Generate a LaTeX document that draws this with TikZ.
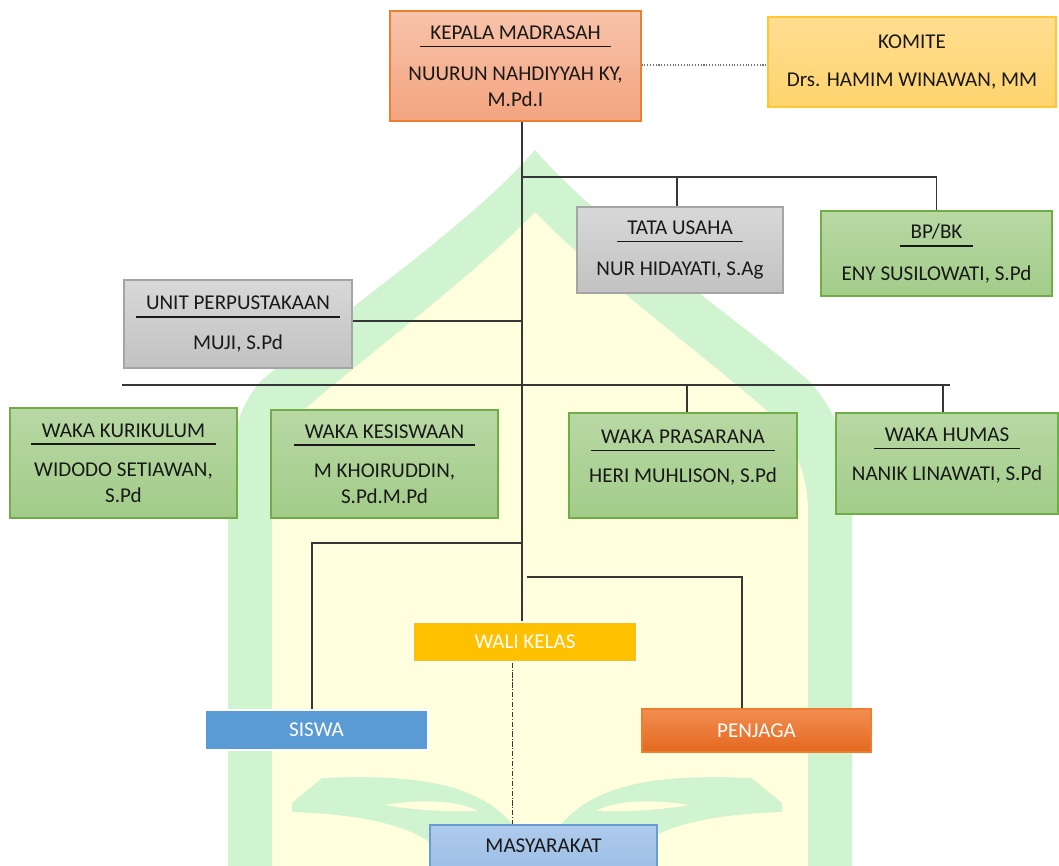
\documentclass[tikz,border=0pt]{standalone}
\usepackage{fontspec}
\setmainfont{Carlito}
\definecolor{teks}{RGB}{25,25,25}
\definecolor{garis}{RGB}{55,55,55}
\definecolor{wmHijau}{RGB}{208,243,208}
\definecolor{wmKuning}{RGB}{255,255,222}
\definecolor{kepala1}{RGB}{247,195,170}\definecolor{kepala2}{RGB}{244,164,128}\definecolor{kepalaG}{RGB}{237,125,49}
\definecolor{komite1}{RGB}{255,222,145}\definecolor{komite2}{RGB}{255,212,110}\definecolor{komiteG}{RGB}{255,200,50}
\definecolor{abu1}{RGB}{216,216,216}\definecolor{abu2}{RGB}{194,194,194}\definecolor{abuG}{RGB}{165,165,165}
\definecolor{hijau1}{RGB}{184,216,164}\definecolor{hijau2}{RGB}{162,204,137}\definecolor{hijauG}{RGB}{112,173,71}
\definecolor{wali}{RGB}{255,192,0}
\definecolor{siswa}{RGB}{91,155,213}
\definecolor{penjaga1}{RGB}{242,142,82}\definecolor{penjaga2}{RGB}{228,104,30}
\definecolor{masy1}{RGB}{174,203,236}\definecolor{masy2}{RGB}{150,185,226}\definecolor{masyG}{RGB}{105,155,212}
\newsavebox{\jbox}
\newcommand{\judul}[1]{\sbox{\jbox}{#1}\rlap{\hspace{-6pt}\raisebox{-4.5pt}{\rule{\dimexpr\wd\jbox+12pt\relax}{0.9pt}}}\usebox{\jbox}}
\tikzset{
  ukuran/.style 2 args={minimum width=#1*0.02cm, minimum height=#2*0.02cm},
  kotak/.style={draw, line width=0.7pt, inner sep=0pt, align=center, text=teks,
    font=\fontsize{12}{14.6}\selectfont},
  abu/.style={kotak, draw=abuG, top color=abu1, bottom color=abu2},
  hijau/.style={kotak, draw=hijauG, top color=hijau1, bottom color=hijau2},
  polos/.style={kotak, draw=white, text=white, fill=#1},
  garisan/.style={draw=garis, line width=0.8pt}
}
\begin{document}
\begin{tikzpicture}[x=0.02cm, y=-0.02cm]
\useasboundingbox (0,0) rectangle (1059,866);
\clip (0,0) rectangle (1059,866);
% watermark
\fill[wmHijau] (228,866) -- (228,500) .. controls (228,445) and (238,405) .. (262,380) .. controls (350,305) and (470,225) .. (535,150)
  .. controls (600,225) and (720,305) .. (808,380) .. controls (832,405) and (852,445) .. (852,500) -- (852,866) -- cycle;
\fill[wmKuning] (272,866) -- (272,512) .. controls (272,465) and (284,432) .. (306,408) .. controls (380,345) and (480,270) .. (535,212)
  .. controls (590,270) and (690,345) .. (764,408) .. controls (786,432) and (808,465) .. (808,512) -- (808,866) -- cycle;
\foreach \s/\d in {1/0, -1/21.48} {
\begin{scope}[xshift=\d cm, xscale=\s]
\fill[wmHijau] (292,803) -- (322,778) .. controls (400,775) and (475,778) .. (514,826) -- (516,850) -- (440,850)
  .. controls (410,822) and (350,814) .. (292,812) -- cycle;
\fill[wmKuning] (385,805) .. controls (420,799) and (458,800) .. (478,811) .. controls (448,812) and (412,810) .. cycle;
\end{scope}}
% kotak
\node[kotak, draw=kepalaG, top color=kepala1, bottom color=kepala2, ukuran={251}{110}] (kepala) at (515.5,66)
  {\judul{KEPALA MADRASAH}\\[9pt] NUURUN NAHDIYYAH KY,\\ M.Pd.I};
\node[kotak, draw=komiteG, top color=komite1, bottom color=komite2, ukuran={288}{90}] (komite) at (912,62)
  {KOMITE\\[7.5pt] Drs. HAMIM WINAWAN, MM};
\node[abu, ukuran={206}{86}] (tu) at (680,250) {\judul{TATA USAHA}\\[9pt] NUR HIDAYATI, S.Ag};
\node[hijau, ukuran={231}{85}] (bk) at (936.5,253.5) {\judul{BP/BK}\\[9pt] ENY SUSILOWATI, S.Pd};
\node[abu, ukuran={228}{88}] (perpus) at (238,324) {\judul{UNIT PERPUSTAKAAN}\\[8pt] MUJI, S.Pd};
\node[hijau, ukuran={227}{110}] (kurikulum) at (123.5,463) {\judul{WAKA KURIKULUM}\\[8pt] WIDODO SETIAWAN,\\ S.Pd};
\node[hijau, ukuran={227}{108}] (kesiswaan) at (384.5,464) {\judul{WAKA KESISWAAN}\\[8pt] M KHOIRUDDIN,\\ S.Pd.M.Pd};
\node[hijau, ukuran={228}{105}] (prasarana) at (683,465.5) {\judul{WAKA PRASARANA}\\[8pt] HERI MUHLISON, S.Pd\\[-4pt]\mbox{}};
\node[hijau, ukuran={222}{101}] (humas) at (947,463.5) {\judul{WAKA HUMAS}\\[8pt] NANIK LINAWATI, S.Pd\\[-4pt]\mbox{}};
\node[polos=wali, ukuran={224}{40}] (walikelas) at (525,642) {WALI KELAS};
\node[polos=siswa, ukuran={223}{40}] (siswa) at (316.5,730) {SISWA};
\node[kotak, draw=kepalaG, text=white, top color=penjaga1, bottom color=penjaga2, ukuran={229}{43}] (penjaga) at (756.5,730.5) {PENJAGA};
\node[kotak, draw=masyG, top color=masy1, bottom color=masy2, ukuran={227}{64}, text depth=0pt] (masyarakat) at (543.5,857)
  {\raisebox{13pt}{MASYARAKAT}};
% garis
\coordinate (jTop) at (522,177); \coordinate (jPer) at (522,321); \coordinate (jSis) at (522,543); \coordinate (jPen) at (527,577);
\coordinate (wL) at (122,385); \coordinate (wR) at (950,385);
\draw[garisan] (kepala.south -| jTop) -- (walikelas.north -| jTop);
\draw[garisan] (jTop) -| ([xshift=-0.06cm]tu.north) (jTop) -| (bk.north);
\draw[garisan] (perpus.east |- jPer) -- (jPer);
\draw[garisan] (wL) -- (wR);
\foreach \n/\dx in {prasarana/0.08, humas/-0.08} \draw[garisan] ([xshift=\dx cm]\n.north) -- ([xshift=\dx cm]\n.north |- wL);
\draw[garisan] (jSis) -| ([xshift=-0.09cm]siswa.north);
\draw[garisan] (jPen) -| ([xshift=-0.29cm]penjaga.north);
\draw[garis!70, densely dotted, line width=0.6pt] (kepala.east |- 0,65) -- (komite.west |- 0,65);
\draw[garis, dash pattern=on 3pt off 1pt on 0.6pt off 1pt, line width=0.5pt] ([xshift=-0.26cm]walikelas.south) -- ([xshift=-0.26cm]walikelas.south |- masyarakat.north);
\end{tikzpicture}
\end{document}
